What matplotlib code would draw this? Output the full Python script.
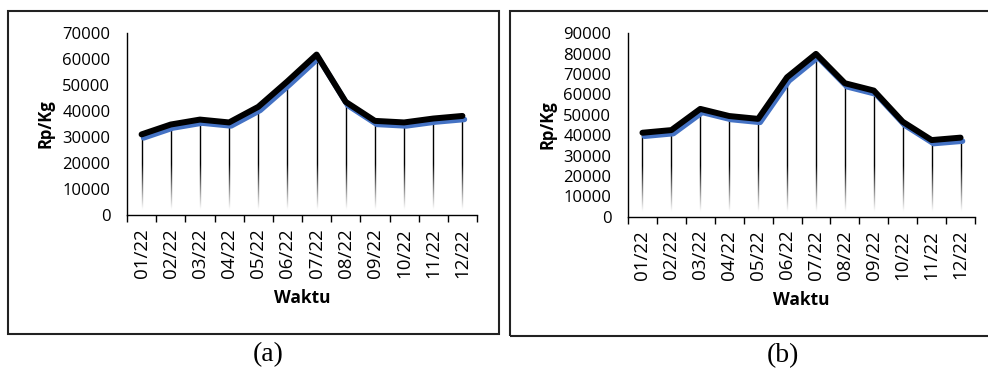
import numpy as np
import matplotlib
matplotlib.use("Agg")
import matplotlib.pyplot as plt
from matplotlib.patches import Rectangle
import matplotlib.transforms as mtransforms

months = ["01/22", "02/22", "03/22", "04/22", "05/22", "06/22",
          "07/22", "08/22", "09/22", "10/22", "11/22", "12/22"]
price_a = [31000, 34800, 36700, 35600, 41600, 51400,
           61700, 43500, 36200, 35600, 37100, 38100]
price_b = [41200, 42500, 52900, 49400, 48000, 68400,
           79900, 65500, 61900, 46600, 37600, 38800]
ylim_a = 70000
ylim_b = 90000

plt.rcParams['font.family'] = ['Open Sans', 'DejaVu Sans']


def draw_panel(fig, rect, values, ymax):
    ax = fig.add_axes(rect)
    x = np.arange(len(values)) + 0.5
    vals = np.array(values, dtype=float)

    # drop lines from each point down to the axis
    ax.vlines(x, 0, vals, colors='black', lw=1.0, zorder=2)

    # white gradient over the lower part so the drop lines fade out
    frac = np.linspace(0, 1, 200)
    alpha = 1 - np.clip((frac - 0.03) / 0.25, 0, 1)
    grad = np.ones((200, 1, 4))
    grad[:, 0, 3] = alpha
    ax.imshow(grad, origin='lower', aspect='auto', extent=[0, len(values), 0, ymax],
              interpolation='bilinear', zorder=2.5)

    # blue shadow line, offset slightly down-right
    shadow = mtransforms.offset_copy(ax.transData, fig=fig, x=2, y=-3.5, units='dots')
    ax.plot(x, vals, color='#4472C4', lw=4.0, transform=shadow,
            solid_joinstyle='round', solid_capstyle='round', zorder=3)
    ax.plot(x, vals, color='black', lw=4.3,
            solid_joinstyle='round', solid_capstyle='round', zorder=4)

    ax.set_xlim(0, len(values))
    ax.set_ylim(0, ymax)
    ax.set_yticks(np.arange(0, ymax + 1, 10000))
    ax.tick_params(axis='y', length=0, labelsize=12, pad=12)
    ax.set_xticks(np.arange(len(values) + 1))
    ax.set_xticklabels([])
    ax.set_xticks(x, minor=True)
    ax.set_xticklabels(months, minor=True, rotation=90, fontsize=13.5)
    ax.tick_params(axis='x', which='major', length=5, width=1, direction='out')
    ax.tick_params(axis='x', which='minor', length=0, pad=9.5)
    for s in ['top', 'right']:
        ax.spines[s].set_visible(False)
    for s in ['left', 'bottom']:
        ax.spines[s].set_linewidth(1.0)
        ax.spines[s].set_color('black')
        ax.spines[s].set_zorder(5)
    ax.set_xlabel('Waktu', fontsize=12.5, fontweight='bold', labelpad=8)
    ax.set_ylabel('Rp/Kg', fontsize=12, fontweight='bold')
    return ax


fig = plt.figure(figsize=(9.88, 3.74), dpi=100)

W, H = 988.0, 374.0
# outer frames of the two panels
fig.patches.append(Rectangle((8 / W, 1 - 334 / H), 491 / W, 323 / H, transform=fig.transFigure,
                             fill=False, edgecolor='#222222', lw=1.5))
fig.patches.append(Rectangle((510 / W, 1 - 336 / H), 490 / W, 325 / H, transform=fig.transFigure,
                             fill=False, edgecolor='#222222', lw=1.5))

ax_a = draw_panel(fig, [127 / W, 1 - 215 / H, 350 / W, 182 / H], price_a, ylim_a)
ax_b = draw_panel(fig, [628 / W, 1 - 216.7 / H, 347 / W, 183.4 / H], price_b, ylim_b)
ax_a.yaxis.set_label_coords(-0.206, 0.5)
ax_b.yaxis.set_label_coords(-0.205, 0.5)

fig.text(268 / W, 1 - 355 / H, '(a)', family='Liberation Serif', fontsize=20,
         ha='center', va='center')
fig.text(783 / W, 1 - 356 / H, '(b)', family='Liberation Serif', fontsize=20,
         ha='center', va='center')

fig.savefig('out.png', dpi=100)
